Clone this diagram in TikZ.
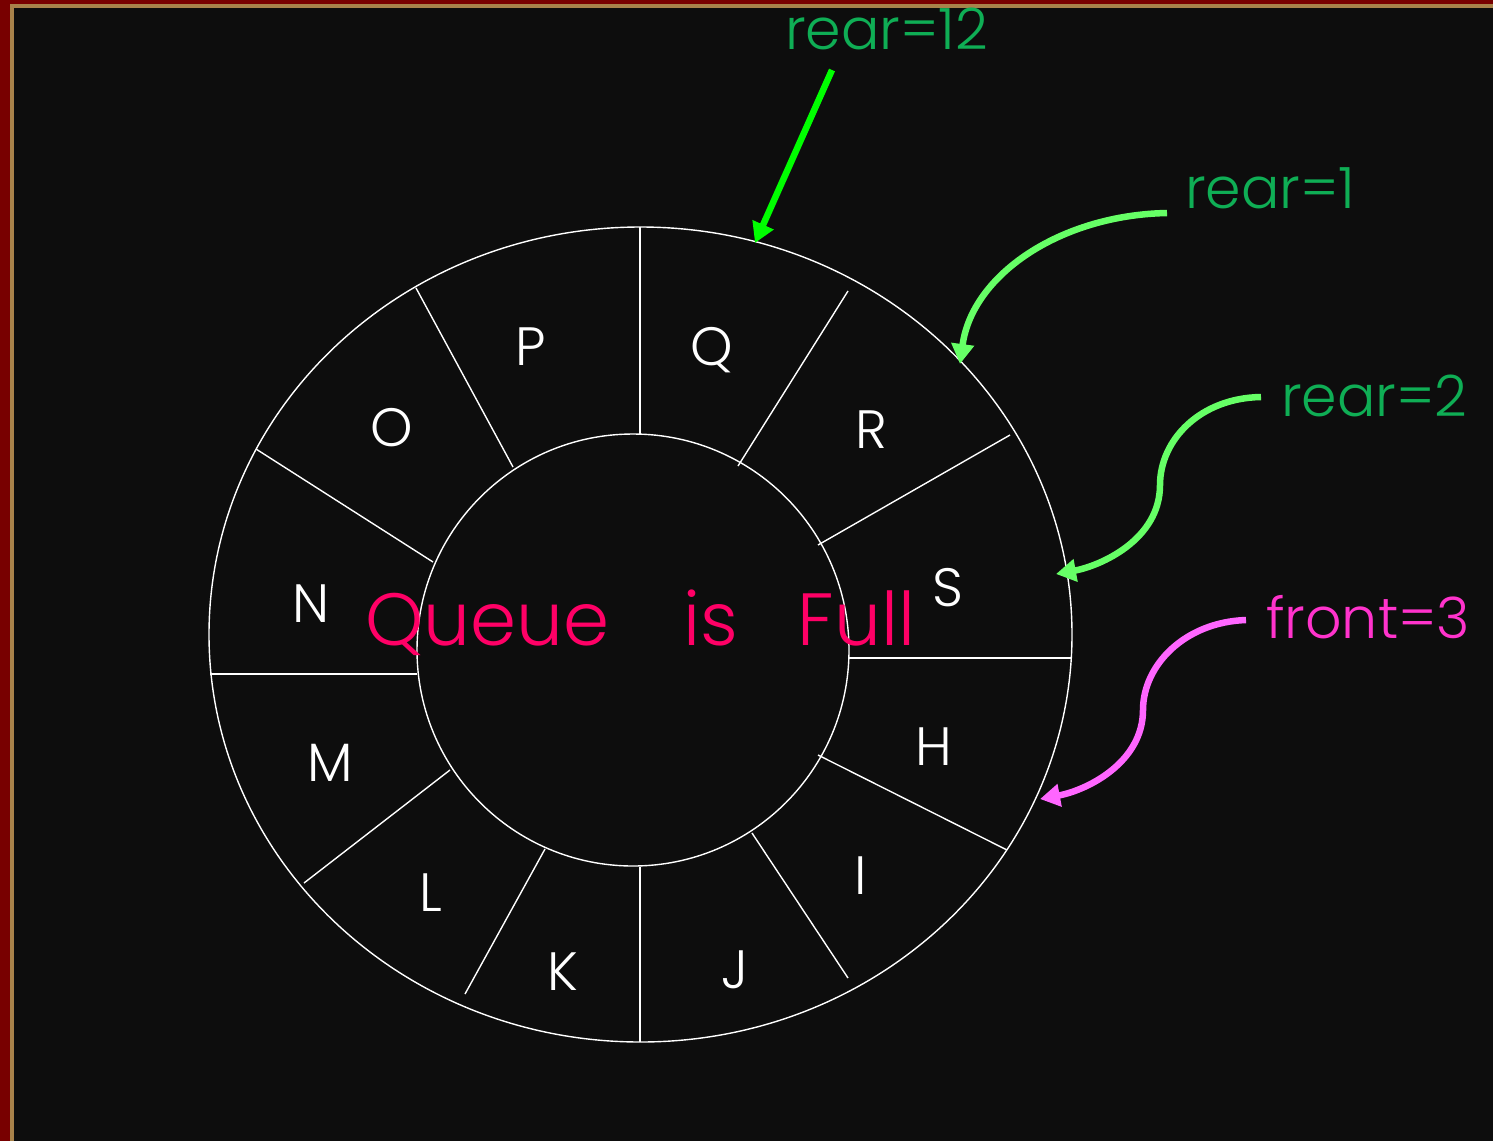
\documentclass[tikz,border=0pt]{standalone}
\usepackage{fontspec}
\setmainfont{Poppins Light}
\usetikzlibrary{arrows.meta}
\definecolor{bg}{HTML}{0D0D0D}
\definecolor{frameRed}{HTML}{780000}
\definecolor{frameGold}{HTML}{A8824A}
\definecolor{labelGreen}{HTML}{0FAE55}
\definecolor{arrGreen}{HTML}{00FF00}
\definecolor{arrLight}{HTML}{66FF66}
\definecolor{arrPink}{HTML}{FF66FF}
\definecolor{txtPink}{HTML}{FF33CC}
\definecolor{fullRed}{HTML}{FF0066}
\begin{document}
\begin{tikzpicture}[x=1pt,y=-1pt,
  ring/.style={draw=white,line width=1.4pt},
  cellname/.style={text=white,font=\fontsize{54}{54}\selectfont,inner sep=0pt},
  lbl/.style={font=\fontsize{57}{57}\selectfont,inner sep=0pt,anchor=base west},
  pointer/.style={line width=6.5pt,-{Triangle[length=20pt,width=22pt]}}]
\useasboundingbox (0,0) rectangle (1493,1141);
\fill[frameRed] (0,0) rectangle (1493,1141);
\fill[frameGold] (10,4) rectangle (1493,1141);
\fill[bg] (14,8) rectangle (1493,1141);
% rings
\draw[ring] (640.5,634.5) ellipse [x radius=431.5, y radius=407.5];
\draw[ring] (633,650) circle [radius=216];
% dividers
\draw[ring] (640,227) -- (640,434);
\draw[ring] (848,291) -- (738,466);
\draw[ring] (1010,435) -- (818,545);
\draw[ring] (1072,658) -- (849,658);
\draw[ring] (1007,850) -- (818,755);
\draw[ring] (848,978) -- (752,833);
\draw[ring] (640,1042) -- (640,867);
\draw[ring] (465,994) -- (545,849);
\draw[ring] (304,883) -- (450,770);
\draw[ring] (210,674) -- (417,674);
\draw[ring] (256,449) -- (433,562);
\draw[ring] (416,288) -- (513,467);
% cell letters
\node[cellname] (P) at (531,347) {P};
\node[cellname] (Q) at (712,350) {Q};
\node[cellname] (R) at (871,430) {R};
\node[cellname] (S) at (948,588) {S};
\node[cellname] (H) at (934,747) {H};
\node[cellname] (I) at (861,876) {I};
\node[cellname] (J) at (735,970) {J};
\node[cellname] (K) at (563,972) {K};
\node[cellname] (L) at (431,893) {L};
\node[cellname] (M) at (330,763) {M};
\node[cellname] (N) at (311,604) {N};
\node[cellname] (O) at (392,428) {O};
% centre text
\node[text=fullRed,font=\fontsize{74}{74}\selectfont,inner sep=0pt,anchor=base west] (full) at (365,645) {Queue\hspace{74pt}is\hspace{60pt}Full};
% labels
\node[lbl,text=labelGreen] (r12) at (785,49) {rear=12};
\node[lbl,text=labelGreen] (r1) at (1185,208) {rear=1};
\node[lbl,text=labelGreen] (r2) at (1281,416) {rear=2};
\node[lbl,text=txtPink] (f3) at (1266,638) {front=3};
% arrow endpoints
\coordinate (a12s) at (832,70);
\coordinate (a12e) at (755,243);
\coordinate (a1s) at (1167,213);
\coordinate (a1e) at (960,364);
\coordinate (a2s) at (1261,397);
\coordinate (a2m) at (1160,485);
\coordinate (a2e) at (1056,574);
\coordinate (f3s) at (1246,620);
\coordinate (f3m) at (1143,710);
\coordinate (f3e) at (1040,799);
\draw[pointer,draw=arrGreen] (a12s) -- (a12e);
\draw[pointer,draw=arrLight] (a1s) .. controls (1060,215) and (972,275) .. (a1e);
\draw[pointer,draw=arrLight] (a2s) .. controls (1200,398) and (1160,440) .. (a2m) .. controls (1160,540) and (1100,566) .. (a2e);
\draw[pointer,draw=arrPink] (f3s) .. controls (1185,622) and (1143,665) .. (f3m) .. controls (1143,762) and (1088,790) .. (f3e);
\end{tikzpicture}
\end{document}
